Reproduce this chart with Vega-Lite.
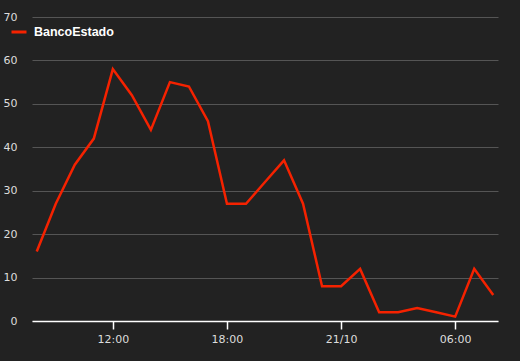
{
  "$schema": "https://vega.github.io/schema/vega-lite/v6.json",
  "width": 466,
  "height": 304,
  "autosize": "none",
  "padding": {"left": 32, "top": 17, "right": 22, "bottom": 40},
  "background": "#222222",
  "config": {
    "view": {"stroke": null},
    "font": "DejaVu Sans"
  },
  "data": {
    "values": [
      {"time": "2014-10-20T08:00:00", "series": "BancoEstado", "value": 16},
      {"time": "2014-10-20T09:00:00", "series": "BancoEstado", "value": 27},
      {"time": "2014-10-20T10:00:00", "series": "BancoEstado", "value": 36},
      {"time": "2014-10-20T11:00:00", "series": "BancoEstado", "value": 42},
      {"time": "2014-10-20T12:00:00", "series": "BancoEstado", "value": 58},
      {"time": "2014-10-20T13:00:00", "series": "BancoEstado", "value": 52},
      {"time": "2014-10-20T14:00:00", "series": "BancoEstado", "value": 44},
      {"time": "2014-10-20T15:00:00", "series": "BancoEstado", "value": 55},
      {"time": "2014-10-20T16:00:00", "series": "BancoEstado", "value": 54},
      {"time": "2014-10-20T17:00:00", "series": "BancoEstado", "value": 46},
      {"time": "2014-10-20T18:00:00", "series": "BancoEstado", "value": 27},
      {"time": "2014-10-20T19:00:00", "series": "BancoEstado", "value": 27},
      {"time": "2014-10-20T20:00:00", "series": "BancoEstado", "value": 32},
      {"time": "2014-10-20T21:00:00", "series": "BancoEstado", "value": 37},
      {"time": "2014-10-20T22:00:00", "series": "BancoEstado", "value": 27},
      {"time": "2014-10-20T23:00:00", "series": "BancoEstado", "value": 8},
      {"time": "2014-10-21T00:00:00", "series": "BancoEstado", "value": 8},
      {"time": "2014-10-21T01:00:00", "series": "BancoEstado", "value": 12},
      {"time": "2014-10-21T02:00:00", "series": "BancoEstado", "value": 2},
      {"time": "2014-10-21T03:00:00", "series": "BancoEstado", "value": 2},
      {"time": "2014-10-21T04:00:00", "series": "BancoEstado", "value": 3},
      {"time": "2014-10-21T05:00:00", "series": "BancoEstado", "value": 2},
      {"time": "2014-10-21T06:00:00", "series": "BancoEstado", "value": 1},
      {"time": "2014-10-21T07:00:00", "series": "BancoEstado", "value": 12},
      {"time": "2014-10-21T08:00:00", "series": "BancoEstado", "value": 6}
    ]
  },
  "mark": {"type": "line", "strokeWidth": 2.5, "interpolate": "linear"},
  "encoding": {
    "x": {
      "field": "time",
      "type": "temporal",
      "scale": {
        "domain": [
          {"year": 2014, "month": 10, "date": 20, "hours": 7, "minutes": 45},
          {"year": 2014, "month": 10, "date": 21, "hours": 8, "minutes": 15}
        ]
      },
      "axis": {
        "title": null,
        "grid": false,
        "values": [
          {"year": 2014, "month": 10, "date": 20, "hours": 12},
          {"year": 2014, "month": 10, "date": 20, "hours": 18},
          {"year": 2014, "month": 10, "date": 21, "hours": 0},
          {"year": 2014, "month": 10, "date": 21, "hours": 6}
        ],
        "labelExpr": "hours(datum.value) == 0 ? timeFormat(datum.value, '%d/%m') : timeFormat(datum.value, '%H:%M')",
        "domainColor": "#ffffff",
        "domainWidth": 1.5,
        "tickColor": "#ffffff",
        "tickWidth": 1.5,
        "tickSize": 8,
        "labelColor": "#dddddd",
        "labelFontSize": 11,
        "labelPadding": 4,
        "labelFont": "DejaVu Sans"
      }
    },
    "y": {
      "field": "value",
      "type": "quantitative",
      "scale": {"domain": [0, 70], "nice": false},
      "axis": {
        "title": null,
        "values": [0, 10, 20, 30, 40, 50, 60, 70],
        "domain": false,
        "ticks": false,
        "gridColor": "#555555",
        "gridWidth": 1,
        "labelColor": "#dddddd",
        "labelFontSize": 11,
        "labelPadding": 15,
        "labelFont": "DejaVu Sans"
      }
    },
    "color": {
      "field": "series",
      "type": "nominal",
      "scale": {"range": ["#f52200"]},
      "legend": {
        "title": null,
        "orient": "none",
        "legendX": -22,
        "legendY": 6,
        "symbolType": "stroke",
        "symbolSize": 225,
        "symbolStrokeWidth": 3,
        "labelColor": "#ffffff",
        "labelFontSize": 12.5,
        "labelFontWeight": "bold",
        "labelFont": "Liberation Sans",
        "labelOffset": 6
      }
    }
  }
}
